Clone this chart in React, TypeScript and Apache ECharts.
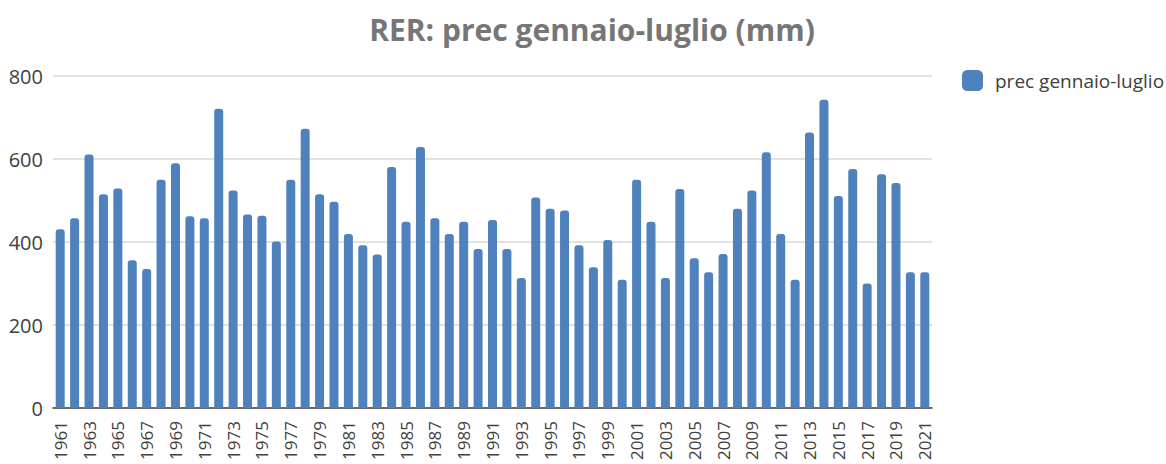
import React, { useEffect, useRef } from "react";
import * as echarts from "echarts";

const years: string[] = [];
for (let y = 1961; y <= 2021; y++) years.push(String(y));

const precValues = [
  431, 457, 611, 515, 529, 356, 335, 550, 590, 462,
  457, 721, 524, 466, 463, 401, 550, 673, 515, 497,
  419, 392, 370, 581, 449, 629, 457, 419, 449, 383,
  453, 383, 313, 507, 480, 476, 392, 339, 405, 309,
  550, 449, 313, 528, 361, 327, 371, 480, 524, 616,
  419, 309, 664, 743, 511, 576, 300, 563, 542, 327,
  327,
];

const yTicks = { min: 0, max: 800, interval: 200 };
const seriesName = "prec gennaio-luglio";
const titleText = "RER: prec gennaio-luglio (mm)";

export default function App() {
  const ref = useRef<HTMLDivElement>(null);
  useEffect(() => {
    document.body.style.margin = "0";
    if (!ref.current) return;
    const chart = echarts.init(ref.current, null, { renderer: "svg" });
    chart.setOption({
      animation: false,
      backgroundColor: "#ffffff",
      title: {
        text: titleText,
        left: 587,
        textAlign: "center",
        top: 9,
        textStyle: {
          fontFamily: "Open Sans",
          fontWeight: "bold",
          fontSize: 30,
          color: "#767676",
        },
      },
      legend: {
        show: true,
        left: 957,
        top: 65,
        itemWidth: 21,
        itemHeight: 21,
        itemGap: 10,
        icon: "roundRect",
        textStyle: { fontFamily: "Open Sans", fontSize: 19, color: "#404040", padding: [0, 0, 0, 7] },
        data: [seriesName],
      },
      grid: { left: 53, right: 234, top: 76, bottom: 56, containLabel: false },
      xAxis: {
        type: "category",
        data: years,
        axisLine: { lineStyle: { color: "#404040", width: 1.5 } },
        axisTick: { show: false },
        axisLabel: {
          interval: 1,
          rotate: 90,
          fontFamily: "Open Sans",
          fontSize: 17,
          color: "#404040",
          margin: 13,
        },
      },
      yAxis: {
        type: "value",
        min: yTicks.min,
        max: yTicks.max,
        interval: yTicks.interval,
        axisLine: { show: false },
        axisTick: { show: false },
        splitLine: { lineStyle: { color: "#d9d9d9", width: 1.5 } },
        axisLabel: {
          fontFamily: "Open Sans",
          fontSize: 20,
          color: "#404040",
          margin: 10,
        },
      },
      series: [
        {
          name: seriesName,
          type: "bar",
          data: precValues,
          barWidth: 9,
          itemStyle: { color: "#4f81bd", borderRadius: [3, 3, 0, 0] },
        },
      ],
    });
    return () => chart.dispose();
  }, []);
  return <div ref={ref} style={{ width: 1166, height: 464 }} />;
}
